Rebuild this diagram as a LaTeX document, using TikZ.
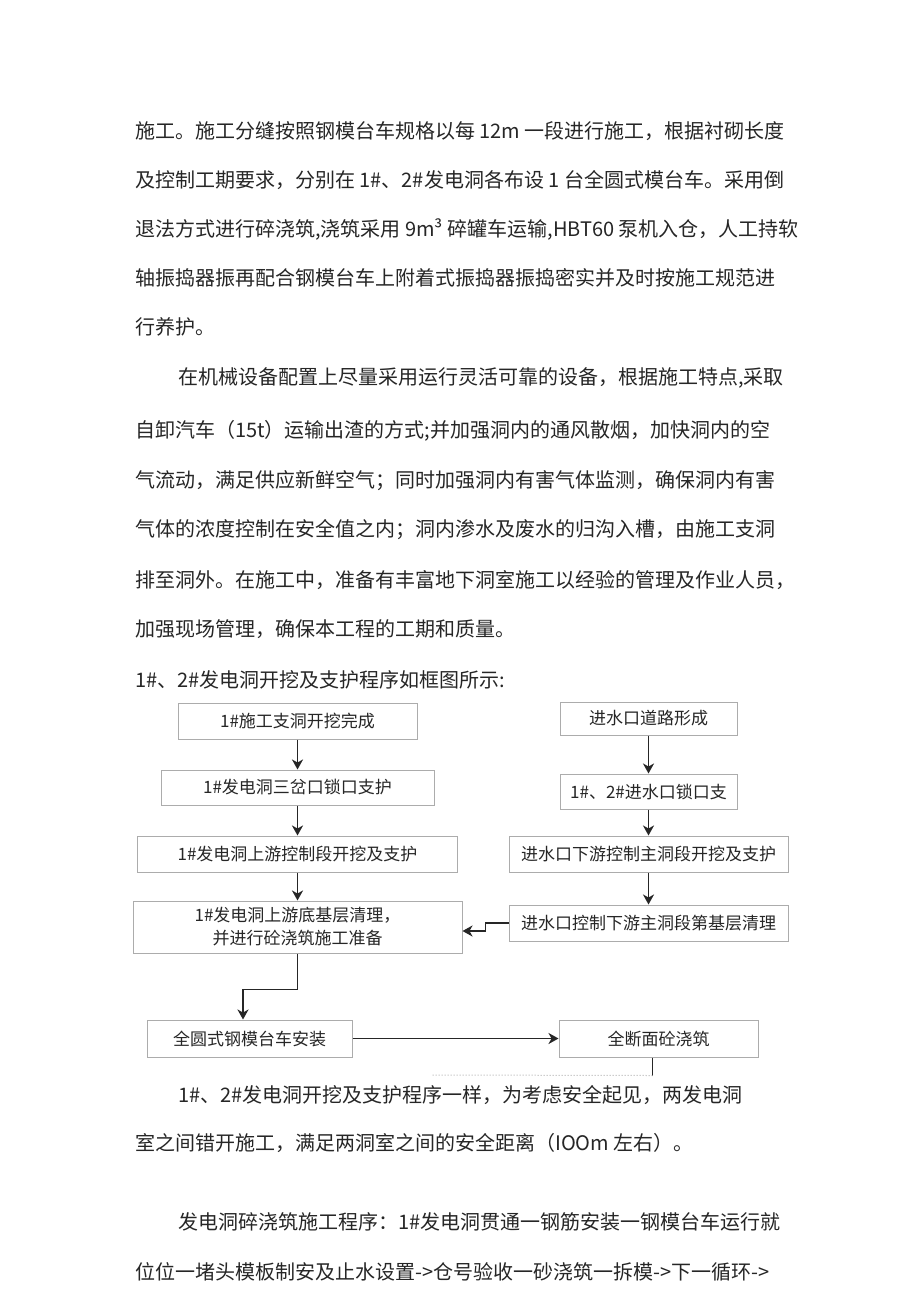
\documentclass[tikz,border=0pt]{standalone}
\usepackage{fontspec}
\setmainfont{Noto Sans CJK SC}
\usepackage{tikz}
\usetikzlibrary{arrows.meta,positioning,calc}
\newcommand{\bodyfont}{\fontsize{20}{24}\selectfont}
\newcommand{\boxfont}{\fontsize{17}{23}\selectfont}

\begin{document}
\begin{tikzpicture}[x=1pt, y=-1pt,
    bodyline/.style={anchor=west, inner sep=0pt, font=\bodyfont, text=black!85},
    procbox/.style={rectangle, draw=gray!65, line width=1pt, fill=white, font=\boxfont, text=black!85, inner sep=0pt, align=center},
    flowarrow/.style={-{Stealth[length=10pt, width=11pt, inset=3pt]}, line width=1.8pt, color=black!85}]
    \useasboundingbox[fill=white] (0,0) rectangle (920,1301);

    % Text above the chart
    \node[bodyline] (t1) at (135,131) {施工。施工分缝按照钢模台车规格以每 12m 一段进行施工，根据衬砌长度};
    \node[bodyline] (t2) at (135,180) {及控制工期要求，分别在 1\#、2\#发电洞各布设 1 台全圆式模台车。采用倒};
    \node[bodyline] (t3) at (135,229) {退法方式进行碎浇筑,浇筑采用 9m³ 碎罐车运输,HBT60 泵机入仓，人工持软};
    \node[bodyline] (t4) at (135,278) {轴振捣器振再配合钢模台车上附着式振捣器振捣密实并及时按施工规范进};
    \node[bodyline] (t5) at (135,327) {行养护。};
    \node[bodyline] (t6) at (178,378) {在机械设备配置上尽量采用运行灵活可靠的设备，根据施工特点,采取};
    \node[bodyline] (t7) at (135,431) {自卸汽车（15t）运输出渣的方式;并加强洞内的通风散烟，加快洞内的空};
    \node[bodyline] (t8) at (135,481) {气流动，满足供应新鲜空气；同时加强洞内有害气体监测，确保洞内有害};
    \node[bodyline] (t9) at (135,530) {气体的浓度控制在安全值之内；洞内渗水及废水的归沟入槽，由施工支洞};
    \node[bodyline] (t10) at (135,580) {排至洞外。在施工中，准备有丰富地下洞室施工以经验的管理及作业人员，};
    \node[bodyline] (t11) at (135,629) {加强现场管理，确保本工程的工期和质量。};
    \node[bodyline] (t12) at (135,680) {1\#、2\#发电洞开挖及支护程序如框图所示:};

    % Left column: generating tunnel 1#
    \node[procbox, minimum width=239pt, minimum height=36pt] (adit) at (297.5,721) {1\#施工支洞开挖完成};
    \node[procbox, minimum width=273pt, minimum height=35pt, below=30pt of adit] (fork) {1\#发电洞三岔口锁口支护};
    \node[procbox, minimum width=320pt, minimum height=36pt, below=30pt of fork] (upexc) {1\#发电洞上游控制段开挖及支护};
    \node[procbox, minimum width=329pt, minimum height=52pt, below=28pt of upexc] (upclean) {1\#发电洞上游底基层清理，\\并进行砼浇筑施工准备};

    % Right column: intake
    \node[procbox, minimum width=177pt, minimum height=33pt] (road) at (648.5,718.5) {进水口道路形成};
    \node[procbox, minimum width=177pt, minimum height=35pt, below=38pt of road] (lock) {1\#、2\#进水口锁口支};
    \node[procbox, minimum width=279pt, minimum height=36pt, below=26pt of lock] (downexc) {进水口下游控制主洞段开挖及支护};
    \node[procbox, minimum width=279pt, minimum height=36pt, below=32pt of downexc] (downclean) {进水口控制下游主洞段第基层清理};

    % Bottom row
    \node[procbox, minimum width=205pt, minimum height=37pt] (trolley) at (249.5,1038.5) {全圆式钢模台车安装};
    \node[procbox, minimum width=199pt, minimum height=37pt, right=206pt of trolley] (pour) {全断面砼浇筑};
    \coordinate (turn) at ($(pour.south)+(-6pt,-18pt)$);
    \coordinate (tail) at (432,1075);

    % Flow
    \draw[flowarrow] (adit) -- (fork);
    \draw[flowarrow] (fork) -- (upexc);
    \draw[flowarrow] (upexc) -- (upclean);
    \draw[flowarrow] (road) -- (lock);
    \draw[flowarrow] (lock) -- (downexc);
    \draw[flowarrow] (downexc) -- (downclean);
    \draw[flowarrow] (downclean.west) -- ++(-23pt,0) |- ([yshift=-4pt]upclean.east);
    \draw[flowarrow] (upclean.south) -- ++(0,-36pt) -| ([xshift=-6.5pt]trolley.north);
    \draw[flowarrow] (trolley) -- (pour);
    \draw[line width=1.8pt, color=black!85] ([xshift=-6pt]pour.south) -- (turn);
    \draw[dotted, line width=1pt, color=gray!60] (turn) -- (tail);

    % Text below the chart
    \node[bodyline] (b1) at (178,1095) {1\#、2\#发电洞开挖及支护程序一样，为考虑安全起见，两发电洞};
    \node[bodyline] (b2) at (135,1143) {室之间错开施工，满足两洞室之间的安全距离（IOOm 左右）。};
    \node[bodyline] (b3) at (178,1222) {发电洞碎浇筑施工程序：1\#发电洞贯通一钢筋安装一钢模台车运行就};
    \node[bodyline] (b4) at (135,1272) {位位一堵头模板制安及止水设置->仓号验收一砂浇筑一拆模->下一循环->};
\end{tikzpicture}
\end{document}
